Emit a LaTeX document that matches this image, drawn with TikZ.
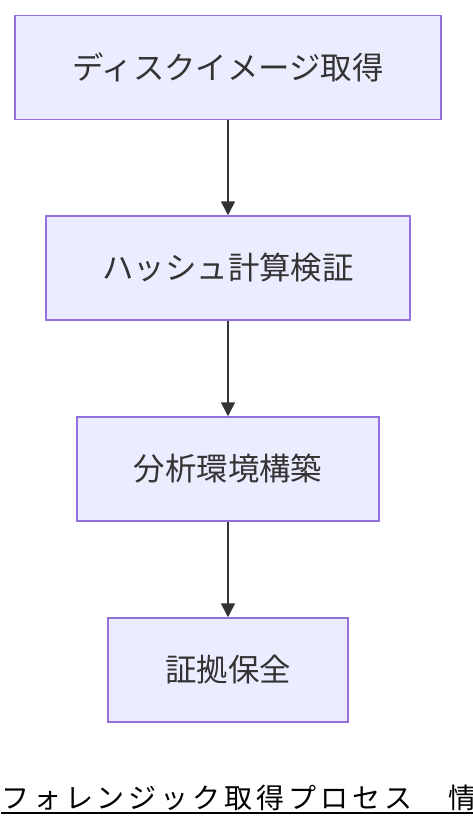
\documentclass[tikz,border=0pt]{standalone}
\usepackage{fontspec}
\newfontfamily\jp{Noto Sans CJK JP}
\newfontfamily\jptitle[LetterSpace=14]{Noto Sans CJK JP}
\usetikzlibrary{arrows.meta}
\definecolor{boxfill}{HTML}{ECECFF}
\definecolor{boxline}{HTML}{9370DB}
\definecolor{ink}{HTML}{333333}

\tikzstyle{procbox}=[draw=boxline,fill=boxfill,line width=1.5pt,minimum height=104pt,inner sep=0pt,text=ink,font=\jp\fontsize{31.4}{36}\selectfont]
\tikzstyle{flow} = [draw=ink,line width=1.6pt,-{Triangle[length=14pt,width=14pt]}]

\begin{document}
\begin{tikzpicture}[x=1pt,y=-1pt]
\useasboundingbox (0,0) rectangle (472,828);
\foreach \pos/\name/\w/\txt in {{(228,67.5)/img/426/ディスクイメージ取得}, {(228,268)/hash/364/ハッシュ計算検証},
                         {(228,469)/env/302/分析環境構築}, {(228,670)/keep/240/証拠保全}}{
  \node[procbox,minimum width=\w pt] (\name) at \pos {\txt};
}
\foreach \source/\dest in {img/hash, hash/env, env/keep} {
  \path[flow] (\source) -- (\dest);
}
\node[anchor=base west,inner sep=0pt,font=\jptitle\fontsize{28}{32}\selectfont] (title) at (1,808) {フォレンジック取得プロセス　情};
\draw[line width=2.2pt] ([yshift=-5pt]title.base west) -- ([yshift=-5pt]title.base east);
\end{tikzpicture}
\end{document}
